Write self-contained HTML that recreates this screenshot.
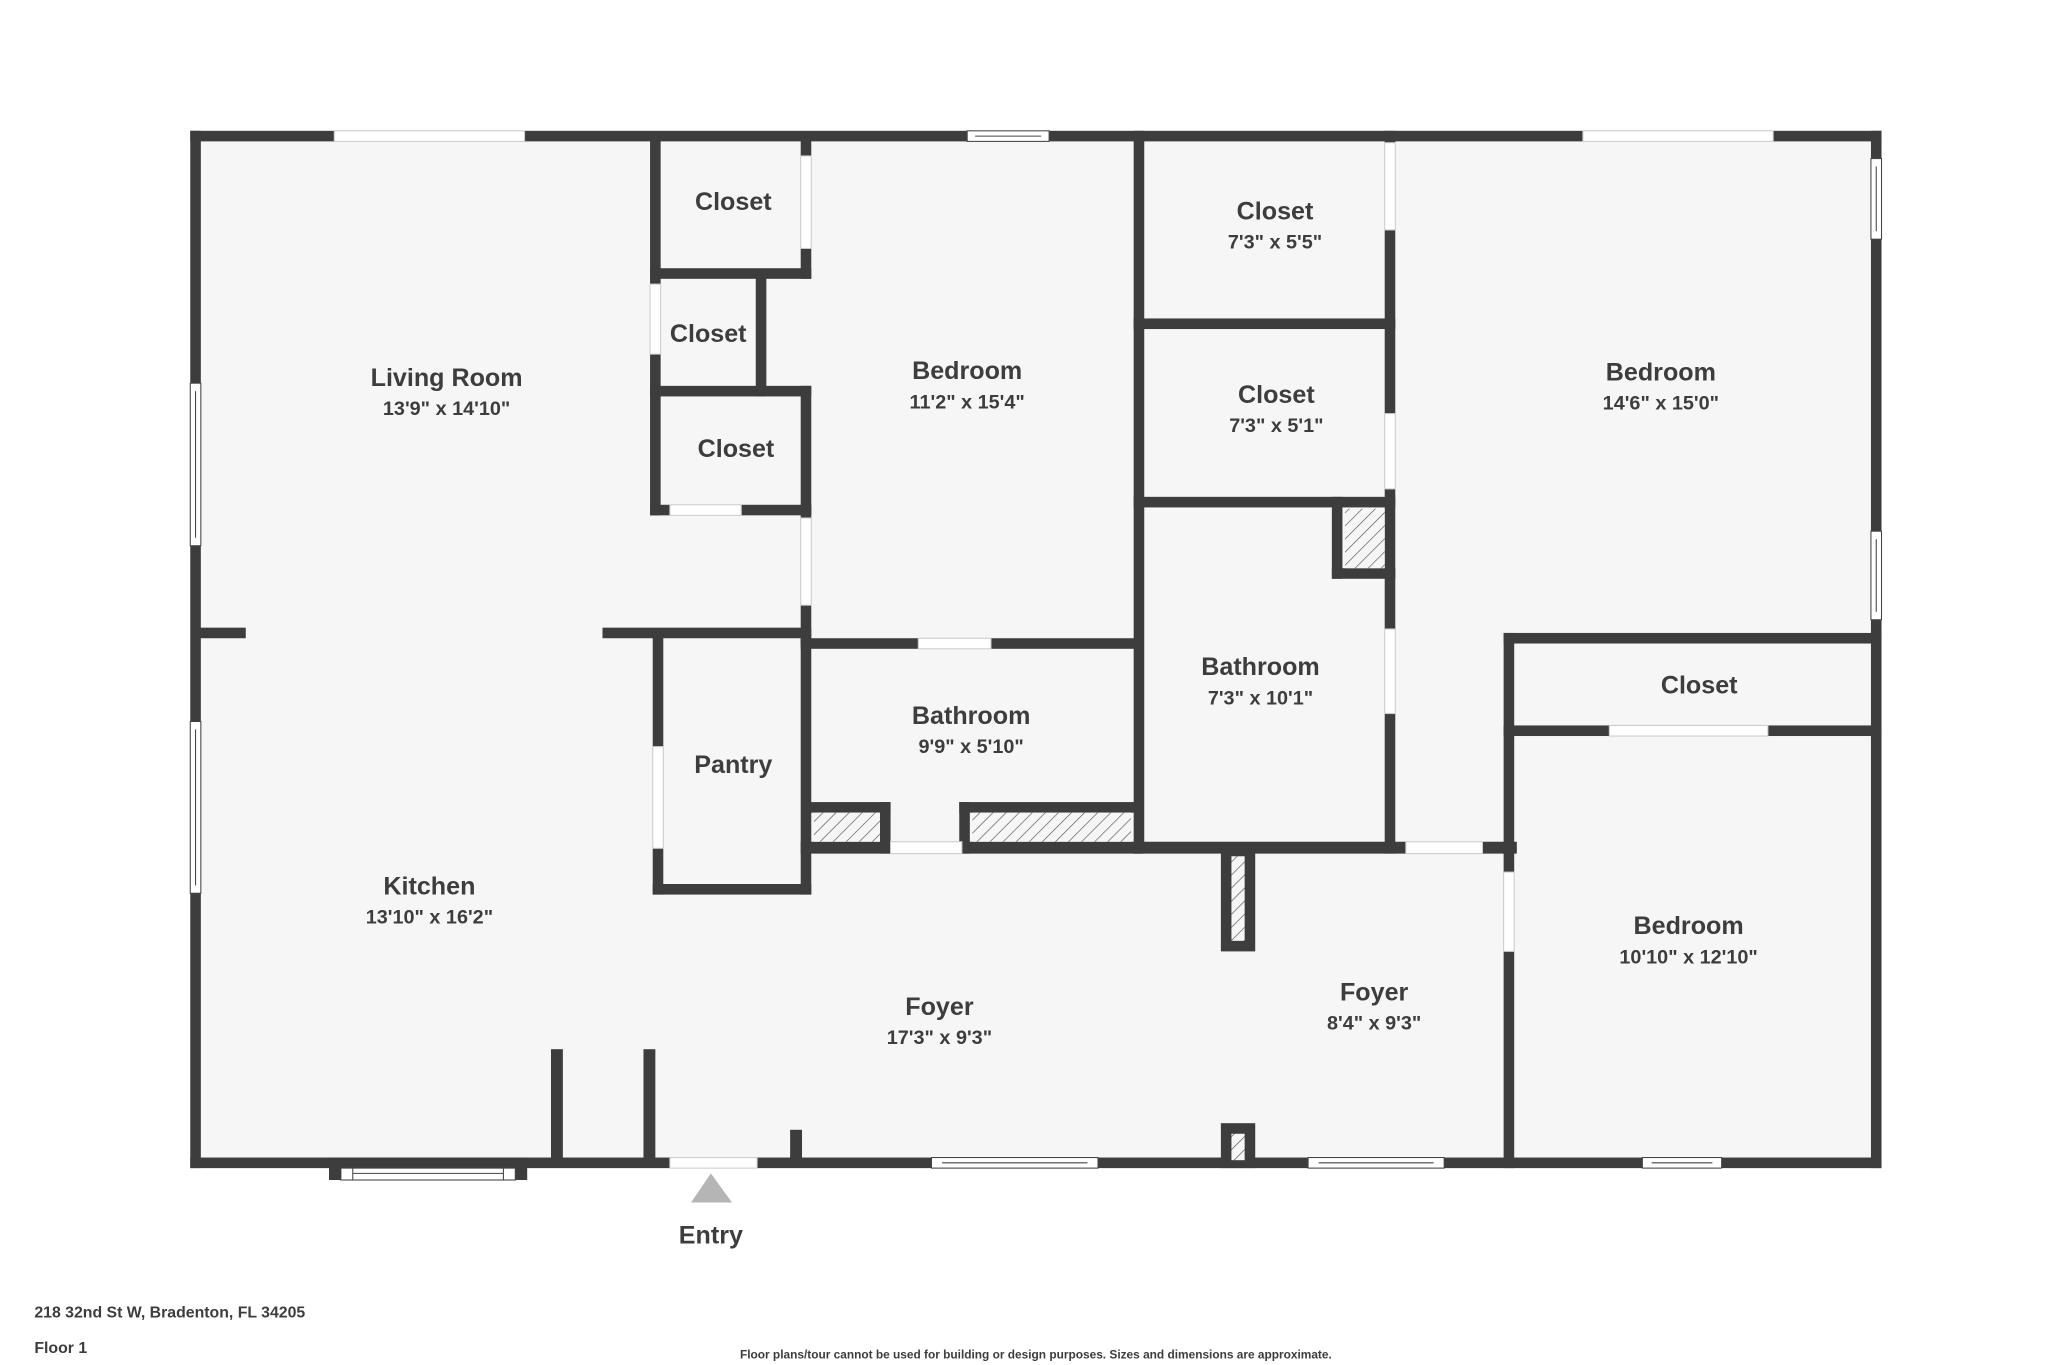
<!DOCTYPE html>
<html><head><meta charset="utf-8"><style>
html,body{margin:0;padding:0;background:#fff;}
svg{display:block;}
text{font-family:"Liberation Sans",sans-serif;fill:#3d3d3d;font-weight:bold;text-anchor:middle;}
.n{font-size:19px;}
.d{font-size:15px;}
</style></head><body>
<svg width="2048" height="1365" viewBox="0 0 1550 1033" preserveAspectRatio="none" xmlns="http://www.w3.org/2000/svg">
<defs>
<pattern id="h" width="7" height="7" patternUnits="userSpaceOnUse" patternTransform="rotate(45)">
<rect width="7" height="7" fill="#f6f6f6"/><line x1="0" y1="0" x2="0" y2="7" stroke="#555" stroke-width="1"/>
</pattern>
</defs>
<rect x="144" y="99" width="1280" height="785" fill="#f6f6f6"/>
<g fill="#3d3d3d">
<!-- outer walls -->
<rect x="144" y="99" width="1280" height="8"/>
<rect x="144" y="99" width="8" height="785"/>
<rect x="1416" y="99" width="8" height="785"/>
<rect x="144" y="876" width="1280" height="8"/>
<rect x="249" y="876" width="150" height="17"/>
<!-- closets left column -->
<rect x="492" y="103" width="8" height="112"/>
<rect x="492" y="268" width="8" height="122"/>
<rect x="606" y="103" width="8" height="108"/>
<rect x="492" y="203" width="122" height="8"/>
<rect x="572" y="207" width="8" height="93"/>
<rect x="492" y="292" width="122" height="8"/>
<rect x="606" y="292" width="8" height="98"/>
<rect x="492" y="382" width="122" height="8"/>
<rect x="606" y="382" width="8" height="106"/>
<!-- bedroom1 bottom -->
<rect x="606" y="483" width="258" height="8"/>
<rect x="858" y="99" width="8" height="547"/>
<!-- living/kitchen partition -->
<rect x="456" y="475" width="158" height="8"/>
<rect x="148" y="475" width="38" height="8"/>
<!-- pantry -->
<rect x="494" y="479" width="8" height="198"/>
<rect x="494" y="669" width="120" height="8"/>
<rect x="606" y="483" width="8" height="194"/>
<!-- bath1 bottom & blocks -->
<rect x="606" y="637" width="258" height="9"/>
<rect x="610" y="607" width="64" height="8"/>
<rect x="666" y="607" width="8" height="39"/>
<rect x="726" y="607" width="138" height="8"/>
<rect x="726" y="607" width="8" height="39"/>
<!-- right closets -->
<rect x="858" y="241" width="198" height="8"/>
<rect x="858" y="376" width="198" height="8"/>
<rect x="1048" y="99" width="8" height="547"/>
<rect x="1008" y="376" width="8" height="62"/>
<rect x="1008" y="430" width="48" height="8"/>
<rect x="858" y="637" width="290" height="9"/>
<!-- bedroom stack right -->
<rect x="1138" y="479" width="8" height="405"/>
<rect x="1138" y="479" width="286" height="8"/>
<rect x="1138" y="549" width="286" height="8"/>
<!-- stubs -->
<rect x="924" y="640" width="26" height="80"/>
<rect x="417" y="794" width="9" height="86"/>
<rect x="487" y="794" width="9" height="86"/>
<rect x="598" y="855" width="9" height="25"/>
<rect x="924" y="850" width="26" height="34"/>
</g>
<!-- hatches -->
<rect x="616" y="615" width="50" height="22" fill="url(#h)"/>
<rect x="736" y="615" width="120" height="22" fill="url(#h)"/>
<rect x="1018" y="385" width="30" height="45" fill="url(#h)"/>
<rect x="932" y="648" width="10" height="64" fill="url(#h)"/>
<rect x="932" y="858" width="10" height="20" fill="url(#h)"/>
<!-- doors (white gaps) -->
<g fill="#fff" stroke="#ccc" stroke-width="0.8">
<rect x="492" y="215" width="8" height="53"/>
<rect x="606" y="118" width="8" height="70"/>
<rect x="507" y="382" width="54" height="8"/>
<rect x="606" y="392" width="8" height="66"/>
<rect x="695" y="483" width="55" height="8"/>
<rect x="494" y="565" width="8" height="77"/>
<rect x="674" y="637" width="54" height="9"/>
<rect x="1048" y="108" width="8" height="66"/>
<rect x="1048" y="313" width="8" height="57"/>
<rect x="1048" y="476" width="8" height="64"/>
<rect x="1064" y="637" width="58" height="9"/>
<rect x="1138" y="660" width="8" height="60"/>
<rect x="1218" y="549" width="120" height="8"/>
<rect x="507" y="876" width="66" height="8"/>
<rect x="253" y="99" width="144" height="8"/>
<rect x="1198" y="99" width="144" height="8"/>
</g>
<!-- windows -->
<g fill="#fff" stroke="#444" stroke-width="0.8">
<rect x="732" y="99" width="62" height="8"/><line x1="738" y1="103" x2="788" y2="103"/>
<rect x="144" y="290" width="8" height="123"/><line x1="148" y1="296" x2="148" y2="407"/>
<rect x="144" y="546" width="8" height="130"/><line x1="148" y1="552" x2="148" y2="670"/>
<rect x="1416" y="120" width="8" height="61"/><line x1="1420" y1="126" x2="1420" y2="175"/>
<rect x="1416" y="402" width="8" height="67"/><line x1="1420" y1="408" x2="1420" y2="463"/>
<rect x="258" y="884" width="132" height="9"/><line x1="267" y1="884" x2="267" y2="893"/><line x1="381" y1="884" x2="381" y2="893"/><line x1="267" y1="888" x2="381" y2="888"/>
<rect x="705" y="876" width="126" height="8"/><line x1="713" y1="880" x2="823" y2="880"/>
<rect x="990" y="876" width="103" height="8"/><line x1="998" y1="880" x2="1085" y2="880"/>
<rect x="1243" y="876" width="60" height="8"/><line x1="1250" y1="880" x2="1296" y2="880"/>
</g>
<!-- entry -->
<polygon points="538,888 523,910 554,910" fill="#b5b5b5"/>
<text class="n" x="538" y="941">Entry</text>
<!-- labels -->
<text class="n" x="555" y="159">Closet</text>
<text class="n" x="536" y="259">Closet</text>
<text class="n" x="557" y="346">Closet</text>
<text class="n" x="338" y="292">Living Room</text><text class="d" x="338" y="314">13'9" x 14'10"</text>
<text class="n" x="732" y="287">Bedroom</text><text class="d" x="732" y="309">11'2" x 15'4"</text>
<text class="n" x="965" y="166">Closet</text><text class="d" x="965" y="188">7'3" x 5'5"</text>
<text class="n" x="966" y="305">Closet</text><text class="d" x="966" y="327">7'3" x 5'1"</text>
<text class="n" x="1257" y="288">Bedroom</text><text class="d" x="1257" y="310">14'6" x 15'0"</text>
<text class="n" x="954" y="511">Bathroom</text><text class="d" x="954" y="533">7'3" x 10'1"</text>
<text class="n" x="735" y="548">Bathroom</text><text class="d" x="735" y="570">9'9" x 5'10"</text>
<text class="n" x="555" y="585">Pantry</text>
<text class="n" x="1286" y="525">Closet</text>
<text class="n" x="325" y="677">Kitchen</text><text class="d" x="325" y="699">13'10" x 16'2"</text>
<text class="n" x="711" y="768">Foyer</text><text class="d" x="711" y="790">17'3" x 9'3"</text>
<text class="n" x="1040" y="757">Foyer</text><text class="d" x="1040" y="779">8'4" x 9'3"</text>
<text class="n" x="1278" y="707">Bedroom</text><text class="d" x="1278" y="729">10'10" x 12'10"</text>
<text style="font-size:12px;text-anchor:start" x="26" y="997">218 32nd St W, Bradenton, FL 34205</text>
<text style="font-size:12px;text-anchor:start" x="26" y="1024">Floor 1</text>
<text style="font-size:9px" x="784" y="1028">Floor plans/tour cannot be used for building or design purposes. Sizes and dimensions are approximate.</text>
</svg>
</body></html>
